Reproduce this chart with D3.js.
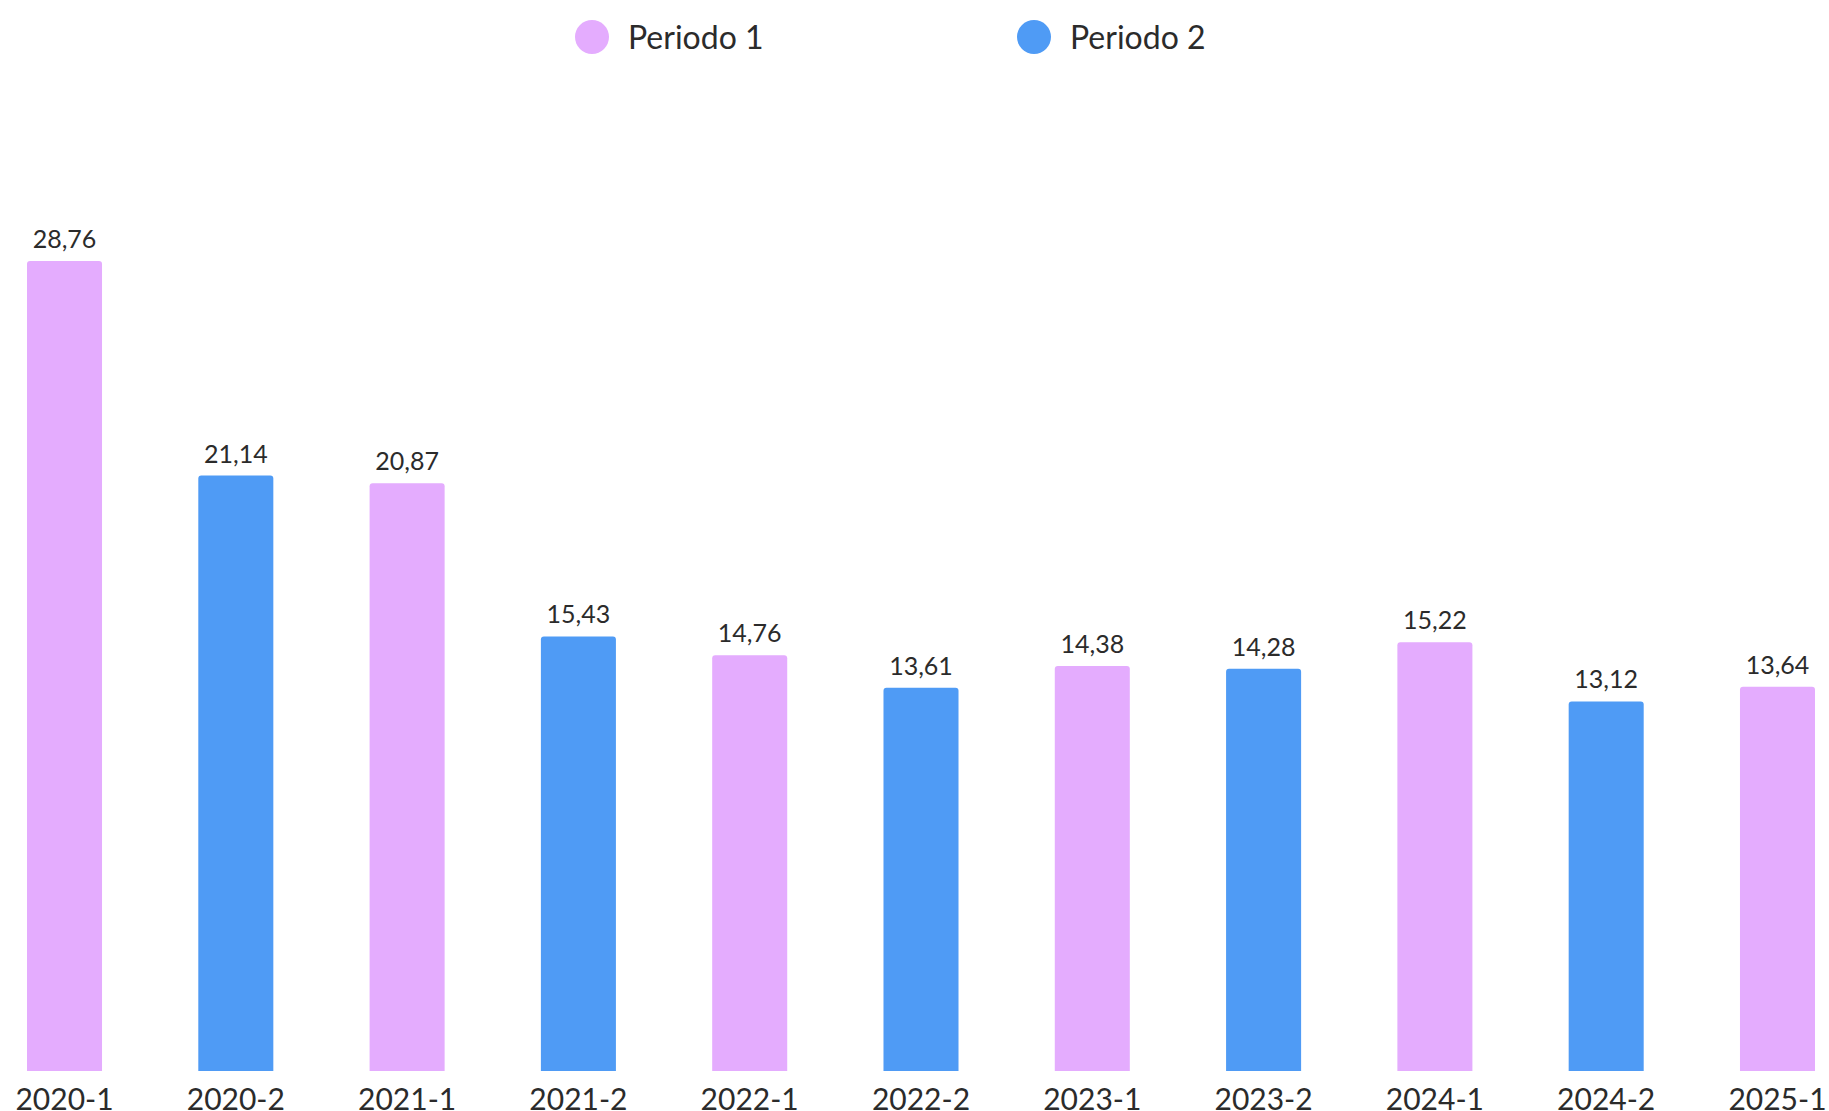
<!DOCTYPE html>
<html>
<head>
<meta charset="utf-8">
<script src="https://cdn.jsdelivr.net/npm/d3@7"></script>
<style>
  body { margin: 0; background: #fff; overflow: hidden; }
  text { font-family: Lato, "Open Sans", sans-serif; fill: #2b2b2b; }
</style>
</head>
<body>
<div id="canvas"></div>
<script>
const categories = ["2020-1", "2020-2", "2021-1", "2021-2", "2022-1", "2022-2", "2023-1", "2023-2", "2024-1", "2024-2", "2025-1"];
const values = [28.76, 21.14, 20.87, 15.43, 14.76, 13.61, 14.38, 14.28, 15.22, 13.12, 13.64];
const periods = ["Periodo 1", "Periodo 2", "Periodo 1", "Periodo 2", "Periodo 1", "Periodo 2", "Periodo 1", "Periodo 2", "Periodo 1", "Periodo 2", "Periodo 1"];
const seriesNames = ["Periodo 1", "Periodo 2"];
const seriesColors = ["#e4acfe", "#4f9bf5"];

const width = 1829, height = 1111;
const data = categories.map((c, i) => ({ cat: c, value: values[i], period: periods[i] }));

const svg = d3.select("#canvas").append("svg")
    .attr("width", width)
    .attr("height", height);

const x = d3.scaleBand()
    .domain(categories)
    .range([27, 1815])
    .paddingInner(0.562)
    .paddingOuter(0);

const y = d3.scaleLinear()
    .domain([0, d3.max(values)])
    .range([1071, 261]);

const color = d3.scaleOrdinal().domain(seriesNames).range(seriesColors);

const fmt = v => d3.format(".2f")(v).replace(".", ",");

// bars with slightly rounded top corners
const r = 3;
svg.selectAll("path.bar").data(data).enter().append("path")
    .attr("class", "bar")
    .attr("fill", d => color(d.period))
    .attr("d", d => {
        const x0 = x(d.cat), x1 = x0 + x.bandwidth(), y0 = y(d.value), yb = y(0);
        return `M${x0},${yb}V${y0 + r}Q${x0},${y0} ${x0 + r},${y0}H${x1 - r}Q${x1},${y0} ${x1},${y0 + r}V${yb}Z`;
    });

svg.selectAll("text.val").data(data).enter().append("text")
    .attr("class", "val")
    .attr("x", d => x(d.cat) + x.bandwidth() / 2)
    .attr("y", d => y(d.value) - 13)
    .attr("text-anchor", "middle")
    .style("font-size", "25px")
    .text(d => fmt(d.value));

// x axis labels
const xAxis = svg.append("g")
    .attr("transform", `translate(0, ${y(0)})`)
    .call(d3.axisBottom(x).tickSize(0).tickPadding(0));
xAxis.select(".domain").remove();
xAxis.selectAll("text")
    .attr("dy", null)
    .attr("y", 39)
    .style("font-size", "30px")
    .style("font-family", "Lato, sans-serif")
    .attr("fill", "#2b2b2b");

// legend
const legendX = [592, 1034];
const legend = svg.selectAll("g.leg").data(seriesNames).enter().append("g")
    .attr("class", "leg")
    .attr("transform", (d, i) => `translate(${legendX[i]}, 37)`);
legend.append("circle").attr("r", 17).attr("fill", d => color(d));
legend.append("text")
    .attr("x", 36)
    .attr("y", 12)
    .style("font-size", "32px")
    .text(d => d);
</script>
</body>
</html>
